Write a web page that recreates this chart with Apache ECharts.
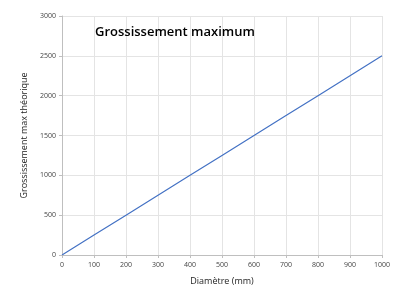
<!DOCTYPE html>
<html><head><meta charset="utf-8">
<script src="https://cdn.jsdelivr.net/npm/echarts@6/dist/echarts.min.js"></script>
<style>html,body{margin:0;padding:0;background:#fff}#c{width:400px;height:300px}</style>
</head><body><div id="c"></div>
<script>
var diameters = [0, 100, 200, 300, 400, 500, 600, 700, 800, 900, 1000];
var grossissement = [0, 250, 500, 750, 1000, 1250, 1500, 1750, 2000, 2250, 2500];
var titleText = 'Grossissement maximum';
var xName = 'Diamètre (mm)';
var yName = 'Grossissement max théorique';

var chart = echarts.init(document.getElementById('c'));
var ff = '"Open Sans", "Noto Sans", sans-serif';
function plain(v) { return String(v); }
chart.setOption({
  animation: false,
  title: {text: titleText, left: 90, top: 21, textStyle: {fontFamily: ff, fontSize: 13, fontWeight: 600, color: '#000'}},
  grid: {left: 62, right: 18, top: 16, bottom: 45},
  xAxis: {
    type: 'value', min: 0, max: 1000, interval: 100,
    name: xName, nameLocation: 'middle', nameGap: 22,
    nameTextStyle: {fontFamily: ff, fontSize: 9, color: '#222'},
    axisLine: {show: true, lineStyle: {color: '#bfbfbf'}},
    axisTick: {show: true, length: 3, lineStyle: {color: '#bfbfbf'}},
    axisLabel: {fontFamily: ff, fontSize: 7, color: '#444', margin: 6, formatter: plain},
    splitLine: {show: true, lineStyle: {color: '#e4e4e4'}}
  },
  yAxis: {
    type: 'value', min: 0, max: 3000, interval: 500,
    name: yName, nameLocation: 'middle', nameGap: 30, nameRotate: 90,
    nameTextStyle: {fontFamily: ff, fontSize: 9, color: '#222'},
    axisLine: {show: true, lineStyle: {color: '#bfbfbf'}},
    axisTick: {show: true, length: 3, lineStyle: {color: '#bfbfbf'}},
    axisLabel: {fontFamily: ff, fontSize: 7, color: '#444', margin: 6, formatter: plain},
    splitLine: {show: true, lineStyle: {color: '#e4e4e4'}}
  },
  series: [{
    type: 'line', data: diameters.map(function (d, i) { return [d, grossissement[i]]; }),
    showSymbol: false, lineStyle: {color: '#4472c4', width: 1.2}
  }]
});
</script></body></html>
